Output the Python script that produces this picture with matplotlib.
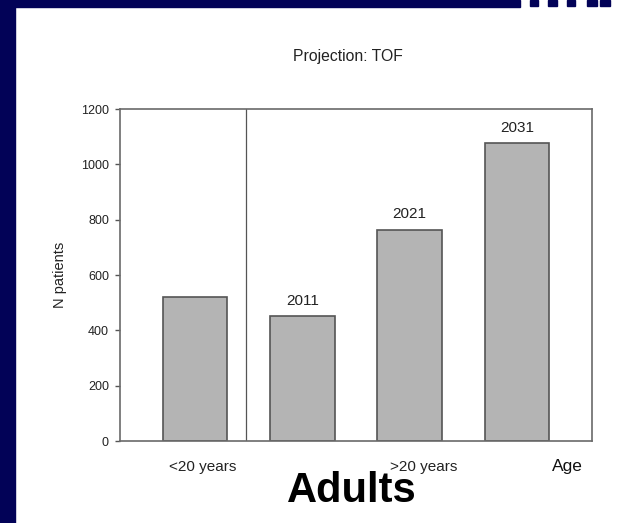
import matplotlib
matplotlib.use('Agg')
import matplotlib.pyplot as plt
from matplotlib.patches import Rectangle

plt.rcParams['font.family'] = ['Liberation Sans', 'DejaVu Sans']

# data
positions = [1, 2, 3, 4]
patients = [522, 452, 764, 1077]
bar_years = ['', '2011', '2021', '2031']
group_labels = ['<20 years', '>20 years']
group_pos = [1.07, 3.13]
yticks = [0, 200, 400, 600, 800, 1000, 1200]

navy = '#020257'

fig = plt.figure(figsize=(6.2, 5.23), dpi=100)
fig.patch.set_facecolor('white')

# blue slide frame (left and top bands) plus bits of the logo at the top right
fig.patches.append(Rectangle((0, 0), 15/620, 1, transform=fig.transFigure,
                             color=navy, zorder=0))
fig.patches.append(Rectangle((0, 1-7/523), 520/620, 7/523, transform=fig.transFigure,
                             color=navy, zorder=0))
for x0, w in [(530, 8), (548, 9), (567, 8), (587, 10), (600, 10)]:
    fig.patches.append(Rectangle((x0/620, 1-6/523), w/620, 6/523,
                                 transform=fig.transFigure, color=navy, zorder=0))

ax = fig.add_axes([120/620, 1-441/523, 472/620, 332/523])
ax.bar(positions, patients, width=0.6, color='#b4b4b4', edgecolor='#555555',
       linewidth=1.2, zorder=2)

for x, v, lab in zip(positions, patients, bar_years):
    if lab:
        ax.annotate(lab, (x, v), xytext=(0, 6), textcoords='offset points',
                    ha='center', va='bottom', fontsize=11, color='#222222')

# divider between the two age groups
ax.axvline(1.47, color='#555555', linewidth=0.9, zorder=1)

ax.set_xlim(0.3, 4.7)
ax.set_ylim(0, 1200)
ax.set_yticks(yticks)
ax.set_xticks([])
ax.tick_params(axis='y', length=3.5, width=1, color='#555555', pad=4.5,
               labelsize=9, labelcolor='#222222')
for s in ax.spines.values():
    s.set_color('#6a6a6a')
    s.set_linewidth(1.2)

for x, lab in zip(group_pos, group_labels):
    ax.text(x, -0.078, lab, transform=ax.get_xaxis_transform(), ha='center',
            va='center', fontsize=11, color='#222222')
ax.text(4.475, -0.078, 'Age', transform=ax.get_xaxis_transform(), ha='center',
        va='center', fontsize=12.5, color='#111111')

fig.text(347.5/620, 1-57/523, 'Projection: TOF', ha='center', va='center',
         fontsize=11.3, color='#222222')
fig.text(60/620, 1-275/523, 'N patients', rotation=90, ha='center', va='center',
         fontsize=10.5, color='#222222')
fig.text(351.7/620, 1-491/523, 'Adults', ha='center', va='center',
         fontsize=30, fontweight='bold', color='black')

fig.savefig('out.png', dpi=100)
